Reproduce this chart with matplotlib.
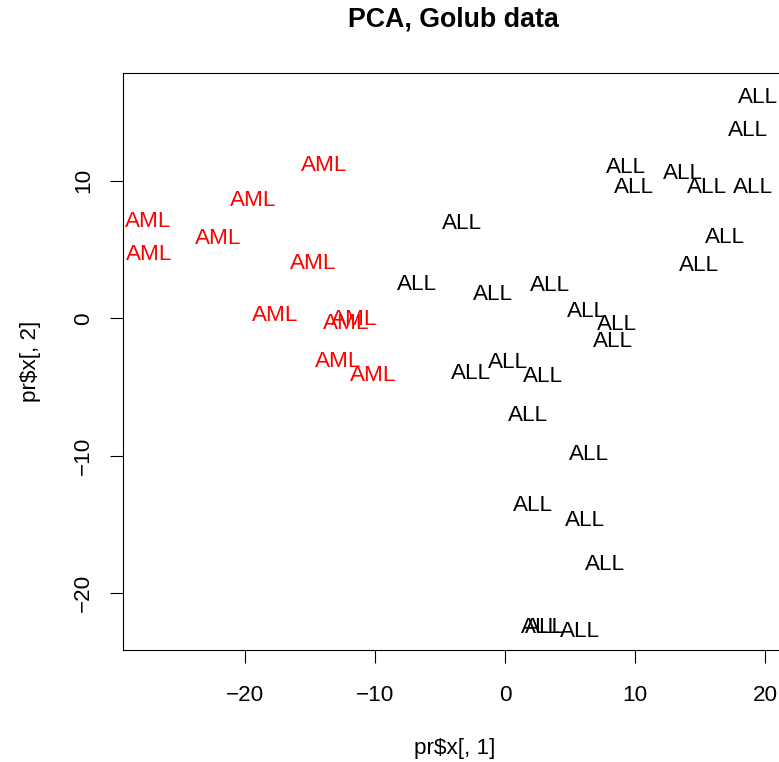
import matplotlib
matplotlib.use("Agg")
import matplotlib.pyplot as plt
import matplotlib.transforms as mtransforms

plt.rcParams['font.family'] = ['Liberation Sans', 'DejaVu Sans']

# PCA scores (pr$x[, 1], pr$x[, 2])
aml_x = [-13.93, -19.42, -27.51, -22.09, -27.45, -14.80, -17.75, -12.26, -11.67, -12.90, -10.18]
aml_y = [11.27, 8.73, 7.22, 6.01, 4.84, 4.17, 0.41, -0.17, 0.12, -2.98, -3.96]

all_x = [19.48, 18.66, 9.29, 13.70, 9.93, 15.50, 19.09, -3.36, 16.91, 14.91,
         -6.82, -0.97, 3.44, 6.27, 8.62, 8.31, -2.66, 0.23, 2.88, 1.77,
         6.42, 2.16, 6.16, 7.66, 2.73, 3.06, 5.75]
all_y = [16.22, 13.82, 11.17, 10.69, 9.67, 9.69, 9.67, 7.08, 6.06, 4.04,
         2.66, 1.93, 2.55, 0.70, -0.25, -1.53, -3.81, -3.01, -4.03, -6.91,
         -9.75, -13.45, -14.55, -17.72, -22.31, -22.31, -22.60]

xticks = [-20, -10, 0, 10, 20]
yticks = [-20, -10, 0, 10]

fig = plt.figure(figsize=(7.79, 7.62), dpi=100)
ax = fig.add_axes([0.1585, 0.147, 0.8505, 0.7568])
ax.set_xlim(-29.39, 21.61)
ax.set_ylim(-24.12, 17.82)

for s in ax.spines.values():
    s.set_linewidth(0.8)

# centre glyphs on the point like R's text()
trans = mtransforms.offset_copy(ax.transData, fig=fig, y=-5.8, units='points')
for x, y in zip(all_x, all_y):
    ax.text(x, y, "ALL", color='black', fontsize=16.2, ha='center', va='baseline', transform=trans)
for x, y in zip(aml_x, aml_y):
    ax.text(x, y, "AML", color='red', fontsize=16.2, ha='center', va='baseline', transform=trans)

ax.set_xticks(xticks)
ax.set_yticks(yticks)
ax.tick_params(axis='both', direction='out', length=9.4, width=0.8, labelsize=16.2)
ax.tick_params(axis='x', pad=15.5)
ax.tick_params(axis='y', pad=11.7)
plt.setp(ax.get_yticklabels(), rotation=90, va='center')

ax.set_xlabel("pr$x[, 1]", fontsize=16.2, va='center')
ax.xaxis.set_label_coords(0.5, -0.170)
ax.set_ylabel("pr$x[, 2]", fontsize=16.2, va='center')
ax.yaxis.set_label_coords(-0.141, 0.5)

fig.text(453 / 779, 1 - 19.5 / 762, "PCA, Golub data", fontsize=19.3, fontweight='bold',
         ha='center', va='center')

fig.savefig("out.png", dpi=100)
